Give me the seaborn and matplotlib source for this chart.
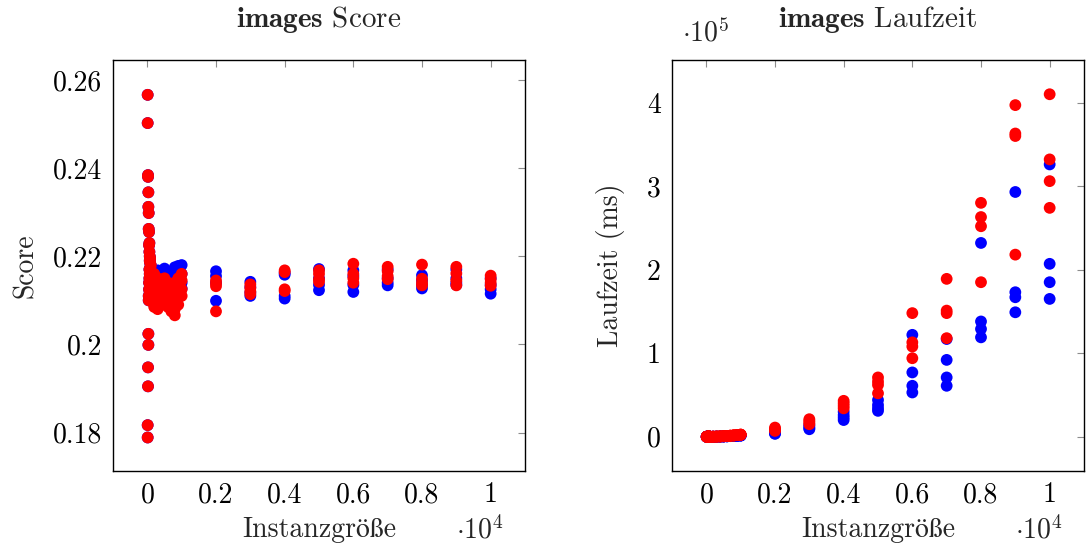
import numpy as np
import pandas as pd
import matplotlib
matplotlib.use("Agg")
import matplotlib.pyplot as plt
import seaborn as sns

# ---------------- data ----------------
sizes = [10, 20, 30, 40, 50, 60, 70, 80, 90, 100,
         200, 300, 400, 500, 600, 700, 800, 900, 1000,
         2000, 3000, 4000, 5000, 6000, 7000, 8000, 9000, 10000]

score_blue = [
    [0.2566, 0.1789, 0.2502, 0.1817],
    [0.2384, 0.1905, 0.2380, 0.1948],
    [0.2345, 0.1999, 0.2312, 0.2024],
    [0.2298, 0.2100, 0.2262, 0.2110],
    [0.2255, 0.2125, 0.2225, 0.2140],
    [0.2230, 0.2150, 0.2210, 0.2170],
    [0.2200, 0.2160, 0.2190, 0.2120],
    [0.2185, 0.2140, 0.2195, 0.2110],
    [0.2175, 0.2150, 0.2165, 0.2104],
    [0.2180, 0.2130, 0.2160, 0.2100],
    [0.2150, 0.2125, 0.2104, 0.2090],
    [0.2168, 0.2135, 0.2110, 0.2095],
    [0.2165, 0.2140, 0.2115, 0.2100],
    [0.2172, 0.2150, 0.2125, 0.2105],
    [0.2165, 0.2140, 0.2120, 0.2100],
    [0.2160, 0.2135, 0.2115, 0.2095],
    [0.2175, 0.2150, 0.2125, 0.2105],
    [0.2178, 0.2160, 0.2135, 0.2115],
    [0.2180, 0.2160, 0.2140, 0.2127],
    [0.2166, 0.2155, 0.2140, 0.2099],
    [0.2142, 0.2130, 0.2118, 0.2110],
    [0.2162, 0.2158, 0.2110, 0.2104],
    [0.2171, 0.2150, 0.2135, 0.2123],
    [0.2168, 0.2155, 0.2135, 0.2119],
    [0.2170, 0.2150, 0.2140, 0.2134],
    [0.2157, 0.2145, 0.2135, 0.2127],
    [0.2170, 0.2150, 0.2140, 0.2135],
    [0.2150, 0.2135, 0.2125, 0.2115],
]

score_red = [
    [0.2566, 0.1789, 0.2502, 0.1817],
    [0.2384, 0.1905, 0.2380, 0.1948],
    [0.2345, 0.1999, 0.2312, 0.2024],
    [0.2298, 0.2100, 0.2262, 0.2110],
    [0.2255, 0.2125, 0.2225, 0.2140],
    [0.2230, 0.2150, 0.2210, 0.2170],
    [0.2200, 0.2160, 0.2190, 0.2120],
    [0.2185, 0.2140, 0.2195, 0.2110],
    [0.2175, 0.2150, 0.2165, 0.2105],
    [0.2180, 0.2130, 0.2160, 0.2100],
    [0.2160, 0.2120, 0.2095, 0.2085],
    [0.2150, 0.2130, 0.2100, 0.2080],
    [0.2145, 0.2120, 0.2105, 0.2090],
    [0.2150, 0.2130, 0.2110, 0.2095],
    [0.2140, 0.2125, 0.2100, 0.2085],
    [0.2135, 0.2115, 0.2095, 0.2075],
    [0.2140, 0.2120, 0.2080, 0.2066],
    [0.2150, 0.2130, 0.2110, 0.2090],
    [0.2160, 0.2145, 0.2125, 0.2110],
    [0.2145, 0.2138, 0.2132, 0.2075],
    [0.2136, 0.2128, 0.2120, 0.2114],
    [0.2168, 0.2164, 0.2125, 0.2121],
    [0.2168, 0.2160, 0.2148, 0.2142],
    [0.2183, 0.2160, 0.2150, 0.2140],
    [0.2176, 0.2166, 0.2155, 0.2148],
    [0.2181, 0.2149, 0.2140, 0.2134],
    [0.2176, 0.2161, 0.2145, 0.2134],
    [0.2156, 0.2148, 0.2140, 0.2133],
]

time_blue = [
    [2, 2, 3, 2], [4, 5, 4, 5], [8, 9, 8, 9], [14, 15, 13, 14], [20, 22, 21, 20],
    [28, 30, 29, 31], [38, 40, 39, 41], [50, 52, 49, 51], [62, 65, 63, 64], [78, 80, 76, 79],
    [60, 55, 50, 48], [150, 140, 130, 120], [280, 260, 240, 230], [420, 400, 380, 360],
    [600, 570, 550, 530], [800, 760, 740, 720], [1050, 1000, 960, 930],
    [1300, 1250, 1200, 1150], [1600, 1550, 1500, 1450],
    [6000, 5000, 4000, 3500],
    [14000, 12000, 10000, 9000],
    [30000, 26000, 23000, 20000],
    [44000, 38000, 34000, 31000],
    [122000, 77000, 61000, 53000],
    [117000, 92000, 71000, 61000],
    [232000, 138000, 129000, 119000],
    [293000, 173000, 167000, 149000],
    [326000, 207000, 185000, 165000],
]

time_red = [
    [2, 3, 3, 2], [5, 5, 6, 5], [9, 10, 9, 10], [16, 17, 15, 16], [24, 25, 24, 23],
    [33, 35, 34, 36], [45, 47, 46, 48], [60, 62, 58, 61], [75, 78, 76, 77], [92, 95, 90, 94],
    [90, 80, 75, 70], [250, 220, 200, 180], [450, 400, 380, 350], [700, 650, 600, 560],
    [1000, 950, 900, 850], [1300, 1250, 1200, 1150], [1700, 1600, 1550, 1500],
    [2100, 2000, 1900, 1850], [2600, 2500, 2400, 2300],
    [11000, 9000, 8000, 7000],
    [21000, 19000, 17000, 15000],
    [43000, 40000, 37000, 34000],
    [71000, 66000, 62000, 52000],
    [148000, 113000, 108000, 94000],
    [189000, 151000, 148000, 118000],
    [280000, 263000, 252000, 185000],
    [397000, 363000, 360000, 218000],
    [410000, 332000, 306000, 274000],
]

x_ticks = [0, 2000, 4000, 6000, 8000, 10000]
x_tick_labels = ["0", "0.2", "0.4", "0.6", "0.8", "1"]
score_ticks = [0.18, 0.20, 0.22, 0.24, 0.26]
score_tick_labels = ["0.18", "0.2", "0.22", "0.24", "0.26"]
time_ticks = [0, 100000, 200000, 300000, 400000]
time_tick_labels = ["0", "1", "2", "3", "4"]

# ---------------- long-form tables ----------------
rows = []
for series, sc, tm in (("A", score_blue, time_blue), ("B", score_red, time_red)):
    for s, scs, tms in zip(sizes, sc, tm):
        for v, t in zip(scs, tms):
            rows.append({"size": s, "score": v, "time": t, "series": series})
df = pd.DataFrame(rows)

palette = {"A": "#0000ff", "B": "#ff0000"}

# ---------------- style ----------------
sns.set_theme(style="white")
plt.rcParams["font.family"] = ["cmr10", "STIXGeneral", "DejaVu Serif"]
plt.rcParams["mathtext.fontset"] = "cm"
plt.rcParams["axes.formatter.use_mathtext"] = True
plt.rcParams["axes.unicode_minus"] = False

FS = 20

fig = plt.figure(figsize=(10.86, 5.54), dpi=100)
ax1 = fig.add_axes([113 / 1086, 83 / 554, 412 / 1086, 411 / 554])
ax2 = fig.add_axes([672 / 1086, 83 / 554, 412 / 1086, 411 / 554])

for ax, ycol in ((ax1, "score"), (ax2, "time")):
    sns.scatterplot(data=df, x="size", y=ycol, hue="series", palette=palette,
                    s=72, linewidth=0, legend=False, ax=ax, zorder=3)
    ax.set_xlim(-1000, 11000)
    ax.set_xticks(x_ticks)
    ax.set_xticklabels(x_tick_labels)
    ax.tick_params(direction="in", length=5, width=0.8, color="#8c8c8c",
                   top=True, right=True, labelsize=FS, pad=8, labelcolor="black")
    for sp in ax.spines.values():
        sp.set_color("black")
        sp.set_linewidth(1.0)
    ax.set_xlabel("Instanzgröße", fontsize=FS)
    ax.xaxis.set_label_coords(0.5, -0.11)
    ax.xaxis.label.set_va("top")
    ax.text(0.948, -0.145, r"$\cdot 10^4$", transform=ax.transAxes,
            ha="right", va="center", fontsize=FS)

ax1.set_ylim(0.1713, 0.2645)
ax1.set_yticks(score_ticks)
ax1.set_yticklabels(score_tick_labels)
ax1.set_ylabel("Score", fontsize=FS)
ax1.yaxis.set_label_coords(-0.18, 0.5)
ax1.set_title(r"$\mathbf{images}$ Score", fontsize=21, pad=24)

ax2.set_ylim(-41000, 451000)
ax2.set_yticks(time_ticks)
ax2.set_yticklabels(time_tick_labels)
ax2.set_ylabel("Laufzeit (ms)", fontsize=FS)
ax2.yaxis.set_label_coords(-0.115, 0.5)
ax2.set_title(r"$\mathbf{images}$ Laufzeit", fontsize=21, pad=24)
ax2.text(0.024, 1.066, r"$\cdot 10^5$", transform=ax2.transAxes,
         ha="left", va="center", fontsize=FS)

fig.savefig("out.png", dpi=100)
